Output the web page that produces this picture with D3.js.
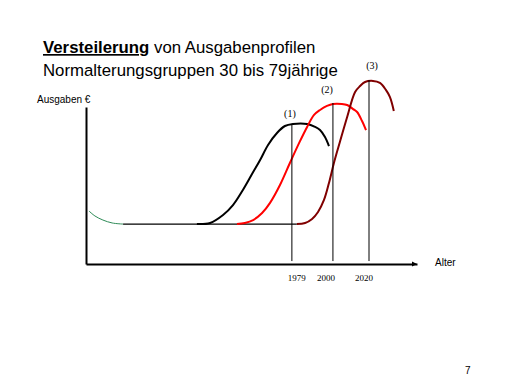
<!DOCTYPE html>
<html>
<head>
<meta charset="utf-8">
<script src="https://cdn.jsdelivr.net/npm/d3@7"></script>
<style>
  body { margin: 0; background: #fff; }
  svg { display: block; font-family: "Liberation Sans", Arial, sans-serif; }
</style>
</head>
<body>
<div id="chart"></div>
<script>
// Ausgabenprofile: Alter -> Ausgaben (relative Einheiten)
const greenAge = [0.9, 2.7, 5.1, 7.9, 11.2];
const greenVal = [28.8, 26.1, 23.9, 22.3, 21.7];

const flatAge = [11.2, 63.7];
const flatVal = [21.7, 21.7];

const age1979 = [33.5, 37.5, 41.4, 44.4, 47.4, 50.2, 52.6, 55, 57.7, 60.1, 62.5, 66.8, 69.2, 70.7, 72.2, 73.4];
const val1979 = [21.7, 22.3, 26.6, 32, 40.2, 49, 56.5, 64.7, 71.2, 75, 76.1, 76.1, 74.5, 72.8, 69, 64.1];

const age2000 = [45.6, 48, 50.5, 53.2, 55.6, 58.6, 61.6, 64.4, 66.8, 68.9, 70.7, 72.8, 74.6, 77.3, 78.9, 80.7, 81.9, 83.4, 84.6];
const val2000 = [21.7, 22.3, 23.9, 27.7, 33.2, 42.9, 54.9, 65.8, 74.5, 81, 83.7, 85.9, 87, 87, 86.4, 84.2, 82.6, 77.7, 72.8];

const age2020 = [63.7, 66.2, 68.3, 70.1, 71.9, 73.4, 74.9, 76.7, 78.9, 81.3, 82.8, 84.3, 86.7, 88.8, 90.6, 91.8, 93];
const val2020 = [21.7, 22.3, 24.5, 28.3, 34.8, 44, 54.9, 66.3, 79.9, 93.5, 96.7, 98.9, 99.5, 98.4, 94.6, 90.8, 83.2];

// Markierungen
const markLabels = ['(1)', '(2)', '(3)'];
const markAge = [62.2, 74.6, 85.5];
const markTop = [76.1, 87.5, 100];
const labelAge = [61.6, 72.8, 86.4];
const labelVal = [80, 93, 106];
const yearLabels = ['1979', '2000', '2020'];
const yearAge = [63.7, 72.5, 84];

const width = 512;
const height = 384;

const svg = d3.select('#chart')
  .append('svg')
  .attr('width', width)
  .attr('height', height);

const x = d3.scaleLinear().domain([0, 100]).range([86, 417]);
const y = d3.scaleLinear().domain([0, 100]).range([264, 80]);

// Titel
const title = svg.append('text')
  .attr('x', 43)
  .attr('y', 53)
  .attr('font-size', 16.8)
  .attr('fill', '#000');
title.append('tspan')
  .attr('font-weight', 'bold')
  .attr('text-decoration', 'underline')
  .text('Versteilerung');
title.append('tspan').text(' von Ausgabenprofilen');

svg.append('text')
  .attr('x', 43)
  .attr('y', 76)
  .attr('font-size', 16.8)
  .text('Normalterungsgruppen 30 bis 79jährige');

// Achsen
svg.append('g')
  .attr('transform', `translate(0, ${y(0)})`)
  .call(d3.axisBottom(x).tickValues([]).tickSizeOuter(0))
  .select('.domain')
  .attr('stroke', '#000')
  .attr('stroke-width', 2);

svg.append('g')
  .attr('transform', `translate(${x(0)}, 0)`)
  .call(d3.axisLeft(d3.scaleLinear().domain([0, 1]).range([y(0), 107])).tickValues([]).tickSizeOuter(0))
  .select('.domain')
  .attr('stroke', '#000')
  .attr('stroke-width', 2);

// Pfeilspitze
svg.append('path')
  .attr('d', `M${x(100) - 5},${y(0) - 2.5} L${x(100)},${y(0)} L${x(100) - 5},${y(0) + 2.5} Z`)
  .attr('fill', '#000');

svg.append('text')
  .attr('x', 37)
  .attr('y', 103)
  .attr('font-size', 10)
  .text('Ausgaben €');

svg.append('text')
  .attr('x', 435)
  .attr('y', 266)
  .attr('font-size', 10)
  .text('Alter');

// Kurven
const line = d3.line()
  .x(d => x(d[0]))
  .y(d => y(d[1]))
  .curve(d3.curveCatmullRom);

function drawCurve(ages, vals, color, w) {
  svg.append('path')
    .datum(d3.zip(ages, vals))
    .attr('d', line)
    .attr('fill', 'none')
    .attr('stroke', color)
    .attr('stroke-width', w)
    .attr('stroke-linejoin', 'round');
}

drawCurve(flatAge, flatVal, '#000', 1.2);
drawCurve(greenAge, greenVal, '#2e8b57', 1);
drawCurve(age1979, val1979, '#000', 2);
drawCurve(age2000, val2000, '#ff0000', 2);
drawCurve(age2020, val2020, '#800000', 2);

// senkrechte Linien
svg.selectAll('line.mark')
  .data(markAge)
  .join('line')
  .attr('class', 'mark')
  .attr('x1', d => x(d))
  .attr('x2', d => x(d))
  .attr('y1', (d, i) => y(markTop[i]))
  .attr('y2', y(1.6))
  .attr('stroke', '#000')
  .attr('stroke-width', 1);

svg.selectAll('text.mlabel')
  .data(markLabels)
  .join('text')
  .attr('class', 'mlabel')
  .attr('x', (d, i) => x(labelAge[i]))
  .attr('y', (d, i) => y(labelVal[i]))
  .attr('text-anchor', 'middle')
  .attr('font-family', '"Liberation Serif", "Times New Roman", serif')
  .attr('font-size', 10)
  .text(d => d);

svg.selectAll('text.year')
  .data(yearLabels)
  .join('text')
  .attr('class', 'year')
  .attr('x', (d, i) => x(yearAge[i]))
  .attr('y', 281)
  .attr('text-anchor', 'middle')
  .attr('font-family', '"Liberation Serif", "Times New Roman", serif')
  .attr('font-size', 9)
  .text(d => d);

svg.append('text')
  .attr('x', 465)
  .attr('y', 374)
  .attr('font-size', 10)
  .text('7');
</script>
</body>
</html>
